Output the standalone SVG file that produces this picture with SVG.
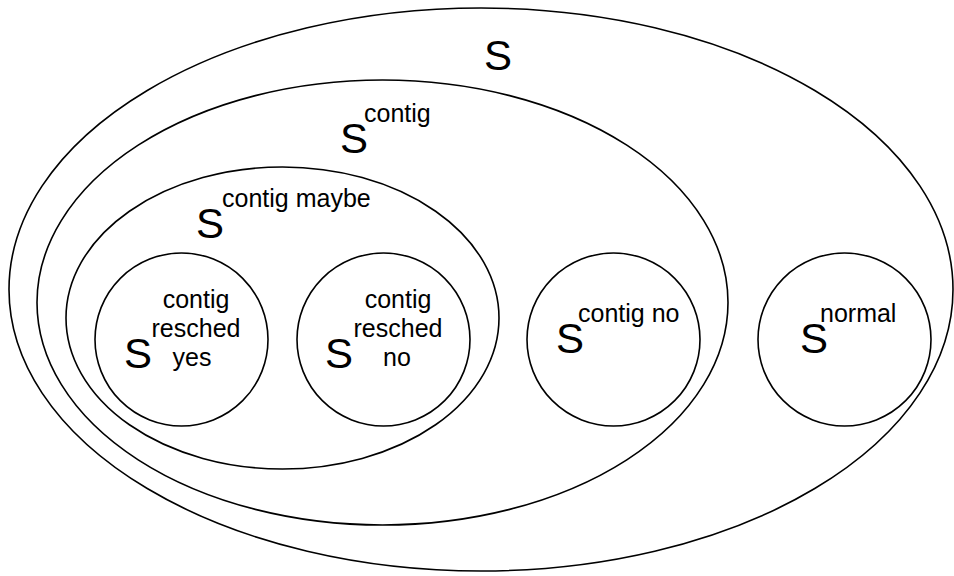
<svg xmlns="http://www.w3.org/2000/svg" width="954" height="576" viewBox="0 0 954 576">
  <style>
    .set { fill: none; stroke: #000; stroke-width: 1.6; }
    .big { font-family: "Liberation Sans", Arial, sans-serif; font-size: 42px; fill: #000; }
    .sup { font-family: "Liberation Sans", Arial, sans-serif; font-size: 25px; fill: #000; }
    .mid { text-anchor: middle; }
  </style>
  <rect width="954" height="576" fill="#fff"/>

  <!-- Universe S -->
  <g id="set-s">
    <ellipse class="set" cx="481" cy="289.5" rx="472" ry="281.5"/>
    <text class="big" x="484" y="70">S</text>
  </g>

  <!-- S contig -->
  <g id="set-contig">
    <ellipse class="set" cx="382.5" cy="302.5" rx="345.5" ry="222.5"/>
    <text class="big" x="340" y="153">S</text>
    <text class="sup" x="364" y="122">contig</text>
  </g>

  <!-- S contig maybe -->
  <g id="set-contig-maybe">
    <ellipse class="set" cx="282.5" cy="318" rx="216.5" ry="151"/>
    <text class="big" x="196" y="238">S</text>
    <text class="sup" x="222" y="207">contig maybe</text>
  </g>

  <!-- S contig resched yes -->
  <g id="set-resched-yes">
    <circle class="set" cx="181.5" cy="339.5" r="86.5"/>
    <text class="big" x="124" y="368">S</text>
    <text class="sup mid" x="196" y="308">contig</text>
    <text class="sup mid" x="196" y="337">resched</text>
    <text class="sup mid" x="192" y="366">yes</text>
  </g>

  <!-- S contig resched no -->
  <g id="set-resched-no">
    <circle class="set" cx="383.5" cy="339.5" r="86.5"/>
    <text class="big" x="325" y="368">S</text>
    <text class="sup mid" x="398" y="308">contig</text>
    <text class="sup mid" x="398" y="337">resched</text>
    <text class="sup mid" x="397" y="366">no</text>
  </g>

  <!-- S contig no -->
  <g id="set-contig-no">
    <circle class="set" cx="613.5" cy="339.5" r="86.5"/>
    <text class="big" x="556" y="353">S</text>
    <text class="sup" x="578" y="322">contig no</text>
  </g>

  <!-- S normal -->
  <g id="set-normal">
    <circle class="set" cx="844.5" cy="339.5" r="86.5"/>
    <text class="big" x="800" y="353">S</text>
    <text class="sup" x="820" y="322">normal</text>
  </g>

  <g id="connectors"></g>
</svg>
